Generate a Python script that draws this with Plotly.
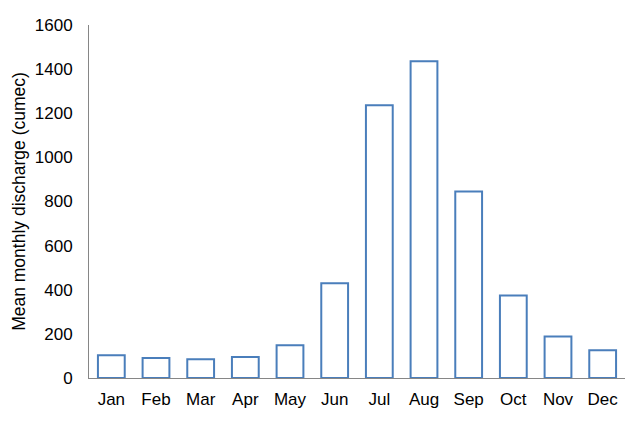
import plotly.graph_objects as go

months = ["Jan", "Feb", "Mar", "Apr", "May", "Jun", "Jul", "Aug", "Sep", "Oct", "Nov", "Dec"]
discharge = [103, 91, 85, 95, 149, 429, 1236, 1436, 845, 374, 188, 126]
y_ticks = [0, 200, 400, 600, 800, 1000, 1200, 1400, 1600]

fig = go.Figure(go.Bar(
    x=months, y=discharge,
    marker=dict(color="white", line=dict(color="#4a7ebb", width=2)),
))
fig.update_layout(
    width=640, height=423,
    margin=dict(l=81, r=23, t=17, b=53),
    plot_bgcolor="white", paper_bgcolor="white",
    bargap=0.4,
    showlegend=False,
    font=dict(family="Liberation Sans, Arial, sans-serif", size=17, color="black"),
)
fig.update_xaxes(showline=True, linecolor="#868686", linewidth=1, showgrid=False,
                 ticks="outside", ticklen=6, tickcolor="rgba(0,0,0,0)",
                 tickfont=dict(size=17), automargin=False)
fig.update_yaxes(range=[0, 1600], tickvals=y_ticks, showline=True, linecolor="#868686",
                 linewidth=1, showgrid=False, zeroline=False, automargin=False,
                 ticks="outside", ticklen=12, tickcolor="rgba(0,0,0,0)",
                 title=dict(text="Mean monthly discharge (cumec)", font=dict(size=17.5), standoff=4),
                 tickfont=dict(size=17))
fig.write_html("out.html")
